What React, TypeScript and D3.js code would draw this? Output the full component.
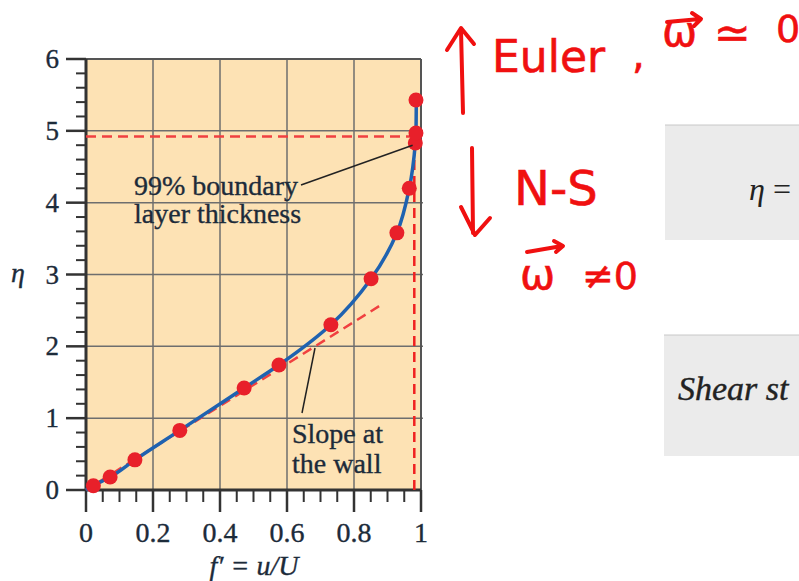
import React from "react";
import * as d3 from "d3";

const dotF = [0.022, 0.072, 0.146, 0.28, 0.472, 0.576, 0.731, 0.851, 0.928, 0.965, 0.983, 0.985, 0.985];
const dotEta = [0.06, 0.18, 0.42, 0.83, 1.42, 1.74, 2.3, 2.94, 3.58, 4.2, 4.83, 4.97, 5.43];
const curveF = [0, 0.022, 0.072, 0.146, 0.28, 0.472, 0.576, 0.731, 0.851, 0.928, 0.965, 0.983, 0.985, 0.986];
const curveEta = [0, 0.06, 0.18, 0.42, 0.83, 1.42, 1.74, 2.3, 2.94, 3.58, 4.2, 4.83, 4.97, 5.43];
const slopeF = [0, 0.875];
const slopeEta = [0, 2.56];
const eta99 = 4.92;
const f99 = 0.98;
const xTickVals = [0, 0.2, 0.4, 0.6, 0.8, 1];
const xTickLabels = ["0", "0.2", "0.4", "0.6", "0.8", "1"];
const yTickVals = [0, 1, 2, 3, 4, 5, 6];
const yTickLabels = ["0", "1", "2", "3", "4", "5", "6"];

const W = 799;
const H = 581;
const serif = "'Liberation Serif', 'DejaVu Serif', serif";
const hand = "'DejaVu Sans', sans-serif";
const RED = "#f01010";
const TXT = "#1c2b3a";

export default function App() {
  const x = d3.scaleLinear().domain([0, 1]).range([86, 421]);
  const y = d3.scaleLinear().domain([0, 6]).range([490, 59]);
  const line = d3
    .line<number>()
    .x((_, i) => x(curveF[i]))
    .y((_, i) => y(curveEta[i]))
    .curve(d3.curveMonotoneY);
  const curvePath = line(curveEta) || "";

  const yMinor = d3.range(0, 6.001, 0.2).filter((v) => Math.abs(v - Math.round(v)) > 1e-6);
  const xMinor = d3.range(0, 1.0001, 0.05).filter((v) => Math.abs(v * 5 - Math.round(v * 5)) > 1e-6);

  const txtStyle = { stroke: TXT, strokeWidth: 0.35 };

  return (
    <svg width={W} height={H} style={{ position: "absolute", left: 0, top: 0, background: "#fff" }}>
      {/* plot background */}
      <rect x={x(0)} y={y(6)} width={x(1) - x(0)} height={y(0) - y(6)} fill="#fde2b4" />
      {/* grid */}
      {xTickVals.slice(1, -1).map((v) => (
        <line key={"gx" + v} x1={x(v)} x2={x(v)} y1={y(0)} y2={y(6)} stroke="#6e6e6e" strokeWidth={1.5} />
      ))}
      {yTickVals.slice(1, -1).map((v) => (
        <line key={"gy" + v} x1={x(0)} x2={x(1) + 2} y1={y(v)} y2={y(v)} stroke="#6e6e6e" strokeWidth={1.5} />
      ))}
      {/* frame */}
      <line x1={x(0)} x2={x(1)} y1={y(6)} y2={y(6)} stroke="#555" strokeWidth={2} />
      <line x1={x(1)} x2={x(1)} y1={y(6)} y2={y(0)} stroke="#555" strokeWidth={2} />
      <line x1={x(0)} x2={x(0)} y1={y(6)} y2={y(0)} stroke="#333" strokeWidth={3} />
      <line x1={x(0)} x2={x(1)} y1={y(0)} y2={y(0)} stroke="#333" strokeWidth={3} />
      {/* y ticks */}
      {yTickVals.map((v) => (
        <line key={"yt" + v} x1={x(0) - 20} x2={x(0)} y1={y(v)} y2={y(v)} stroke="#333" strokeWidth={2.5} />
      ))}
      {yMinor.map((v) => (
        <line key={"ym" + v} x1={x(0) - 10} x2={x(0)} y1={y(v)} y2={y(v)} stroke="#333" strokeWidth={2} />
      ))}
      {/* x ticks */}
      {xTickVals.map((v) => (
        <line key={"xt" + v} x1={x(v)} x2={x(v)} y1={y(0)} y2={y(0) + 22} stroke="#333" strokeWidth={2.5} />
      ))}
      {xMinor.map((v) => (
        <line key={"xm" + v} x1={x(v)} x2={x(v)} y1={y(0)} y2={y(0) + 12} stroke="#333" strokeWidth={2} />
      ))}
      {/* tick labels */}
      {yTickVals.map((v, i) => (
        <text key={"yl" + v} x={59} y={y(v) + 9} textAnchor="end" fontFamily={serif} fontSize={27} fill={TXT} style={txtStyle}>
          {yTickLabels[i]}
        </text>
      ))}
      {xTickVals.map((v, i) => (
        <text key={"xl" + v} x={x(v)} y={542} textAnchor="middle" fontFamily={serif} fontSize={28} fill={TXT} style={txtStyle}>
          {xTickLabels[i]}
        </text>
      ))}
      {/* axis titles */}
      <text x={18} y={282} textAnchor="middle" fontFamily={serif} fontStyle="italic" fontSize={28} fill={TXT} style={txtStyle}>
        η
      </text>
      <text x={254} y={575} textAnchor="middle" fontFamily={serif} fontStyle="italic" fontSize={28} fill={TXT} style={txtStyle}>
        f′ = u/U
      </text>

      {/* dashed reference lines */}
      <line x1={x(0)} x2={x(f99)} y1={y(eta99)} y2={y(eta99)} stroke="#f04040" strokeWidth={2.5} strokeDasharray="10 6" />
      <line x1={x(f99)} x2={x(f99)} y1={y(0)} y2={y(eta99)} stroke="#f02020" strokeWidth={2.5} strokeDasharray="10 6" />
      <line x1={x(slopeF[0])} x2={x(slopeF[1])} y1={y(slopeEta[0])} y2={y(slopeEta[1])} stroke="#f04040" strokeWidth={2.5} strokeDasharray="10 6" />

      {/* curve */}
      <path d={curvePath} fill="none" stroke="#1f62b0" strokeWidth={3.5} />
      {/* dots */}
      {dotF.map((f, i) => (
        <circle key={"d" + i} cx={x(f)} cy={y(dotEta[i])} r={7.5} fill="#e8202a" />
      ))}

      {/* annotations */}
      <line x1={301} y1={185} x2={x(0.975)} y2={y(4.8)} stroke="#222" strokeWidth={1.5} />
      <text x={134} y={195} fontFamily={serif} fontSize={28} fill={TXT} style={txtStyle}>99% boundary</text>
      <text x={134} y={223} fontFamily={serif} fontSize={28} fill={TXT} style={txtStyle}>layer thickness</text>
      <line x1={302} y1={413} x2={315} y2={348} stroke="#222" strokeWidth={1.5} />
      <text x={292} y={443} fontFamily={serif} fontSize={28} fill={TXT} style={txtStyle}>Slope at</text>
      <text x={292} y={473} fontFamily={serif} fontSize={28} fill={TXT} style={txtStyle}>the wall</text>

      {/* grey boxes */}
      <rect x={665} y={125} width={W - 665} height={115} fill="#ebebeb" />
      <line x1={665} x2={W} y1={125} y2={125} stroke="#c8c8c8" strokeWidth={1} />
      <text x={749} y={200} fontFamily={serif} fontSize={32} fill="#222">
        <tspan fontStyle="italic">η</tspan> =
      </text>
      <rect x={664} y={335} width={W - 664} height={121} fill="#ebebeb" />
      <line x1={664} x2={W} y1={335} y2={335} stroke="#c8c8c8" strokeWidth={1} />
      <text x={678} y={400} fontFamily={serif} fontStyle="italic" fontSize={34} fill="#222" style={{ stroke: "#222", strokeWidth: 0.4 }}>
        Shear st
      </text>

      {/* handwritten red notes */}
      <g stroke={RED} strokeWidth={4} fill="none" strokeLinecap="round" strokeLinejoin="round">
        <path d="M463,113 L461,30" />
        <path d="M447,50 L461,28 L474,44" />
        <path d="M472,148 L473,233" />
        <path d="M461,207 L475,235 L490,218" />
        <path d="M667,22 L700,19 M692,13 L701,19 L694,26" />
        <path d="M527,252 L562,246 M554,241 L563,246 L556,252" />
      </g>
      <g fill={RED} fontFamily={hand} style={{ stroke: RED, strokeWidth: 0.6 }}>
        <text x={492} y={72} fontSize={44}>Euler</text>
        <text x={632} y={68} fontSize={40}>,</text>
        <text x={662} y={46} fontSize={42}>ω</text>
        <text x={714} y={48} fontSize={44}>≃</text>
        <text x={776} y={42} fontSize={38}>0</text>
        <text x={514} y={205} fontSize={48}>N-S</text>
        <text x={520} y={289} fontSize={42}>ω</text>
        <text x={582} y={289} fontSize={38}>≠0</text>
      </g>
    </svg>
  );
}
